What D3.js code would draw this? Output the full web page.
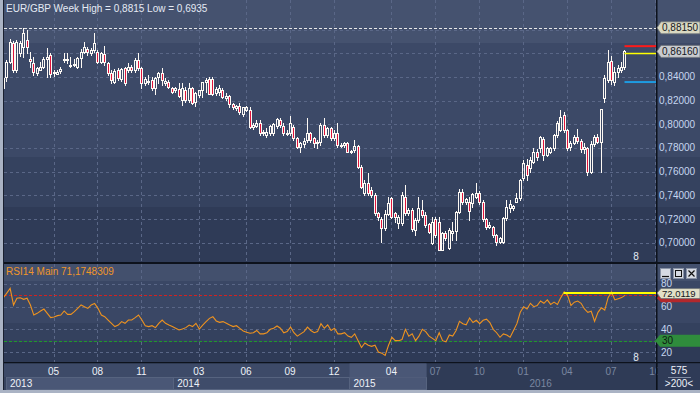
<!DOCTYPE html>
<html><head><meta charset="utf-8">
<script src="https://cdn.jsdelivr.net/npm/d3@7"></script>
<style>
html,body{margin:0;padding:0;background:#2f3b57;overflow:hidden;}
svg{display:block;font-family:"Liberation Sans",Arial,sans-serif;}
</style></head><body>
<svg id="c" width="700" height="393"></svg>
<script>
// ---------- DATA ----------
const title = "EUR/GBP Week High = 0,8815 Low = 0,6935";
const rsiTitle = "RSI14  Main 71,1748309";
const firstWeek = "2013-01-13";
const lastWeekEnd = "2016-08-01";
const opens = [
.8304,.8402,.8529,.8684,.8459,.8599,.8656,.8712,.8549,.8515,.8431,.8459,.8487,.8549,.8585,.8445,.8425,.8453,.8549,.8549,.8501,.8509,.8487,.8557,.8614,.8636,.8599,.8628,.8614,.8529,
.8591,.8515,.8431,.8360,.8459,.8380,.8473,.8459,.8487,.8459,.8543,.8473,.8346,.8366,.8374,.8304,.8397,.8431,.8346,.8360,.8304,.8290,.8295,.8205,.8290,.8205,.8304,.8191,.8247,.8290,
.8360,.8380,.8380,.8262,.8270,
.8290,.8219,.8239,.8172,.8135,.8157,.8087,.8121,.8121,.7980,.7985,.8008,.7938,.7910,.7924,.7930,.7985,.8036,.7985,.7924,.7924,.7980,.7882,.7811,.7833,.7867,.7930,.7882,.7839,.7853,
.7994,.7910,.7966,.7882,.7924,.7825,.7825,.7839,.7769,.7783,.7820,.7642,.7417,.7502,.7445,.7403,.7248,.7197,.7121,.7242,.7375,.7248,.7164,.7164,.7389,.7248,.7276,.7107,.7192,.7276,
.7234,
.7158,.7000,.7197,.7178,.6939,.7079,.6953,.7079,.7102,.7262,.7425,.7347,.7347,.7338,.7389,.7417,.7347,.7197,.7136,.7130,.7065,.7009,.7009,.7206,.7290,.7290,.7347,.7375,.7543,.7656,
.7628,.7684,.7769,.7797,.7873,.7741,.7769,.7797,.7910,.7952,.8079,.7952,.7811,.7846,.7896,.7862,.7790,.7800,.7600,.7834,.7896,.7853,.8219,.8374,.8538,.8360,.8445,.8459,.8487];
const highs = [
.8408,.8543,.8718,.8706,.8712,.8706,.8815,.8796,.8608,.8566,.8487,.8529,.8571,.8642,.8599,.8459,.8459,.8481,.8599,.8599,.8566,.8549,.8566,.8633,.8698,.8650,.8642,.8774,.8628,.8614,
.8661,.8529,.8459,.8464,.8473,.8473,.8487,.8515,.8501,.8557,.8599,.8487,.8402,.8416,.8402,.8402,.8445,.8473,.8388,.8374,.8318,.8318,.8352,.8346,.8318,.8352,.8318,.8276,.8290,.8304,
.8388,.8402,.8402,.8318,.8332,
.8304,.8262,.8247,.8177,.8163,.8177,.8149,.8157,.8143,.8008,.8036,.8036,.7950,.7966,.7994,.8013,.8050,.8050,.8008,.7950,.8070,.7994,.7896,.7853,.7882,.8050,.7938,.7896,.7867,.8008,
.8050,.7980,.7980,.7950,.8008,.7839,.7853,.7853,.7783,.7867,.7825,.7656,.7530,.7586,.7473,.7417,.7262,.7220,.7276,.7389,.7389,.7262,.7234,.7431,.7487,.7290,.7290,.7206,.7389,.7361,
.7262,
.7164,.7220,.7220,.7220,.7090,.7100,.7120,.7178,.7265,.7450,.7450,.7380,.7389,.7417,.7501,.7440,.7361,.7210,.7178,.7140,.7075,.7050,.7220,.7361,.7361,.7320,.7417,.7540,.7700,.7710,
.7720,.7800,.7790,.7900,.7890,.7810,.7810,.7920,.8030,.8120,.8100,.7960,.7860,.7910,.7960,.7880,.7840,.7810,.7860,.7910,.7920,.8130,.8420,.8628,.8580,.8480,.8500,.8530,.8628];
const lows = [
.8284,.8369,.8515,.8445,.8445,.8577,.8571,.8599,.8487,.8417,.8417,.8464,.8473,.8397,.8402,.8408,.8436,.8431,.8529,.8515,.8487,.8493,.8473,.8481,.8599,.8585,.8585,.8614,.8515,.8515,
.8501,.8417,.8352,.8346,.8374,.8369,.8332,.8445,.8445,.8445,.8459,.8304,.8332,.8340,.8290,.8256,.8346,.8332,.8332,.8304,.8262,.8276,.8228,.8163,.8191,.8191,.8172,.8157,.8233,.8233,
.8276,.8346,.8247,.8247,.8247,
.8219,.8205,.8149,.8129,.8121,.8087,.8072,.8115,.7966,.7960,.7980,.7910,.7910,.7896,.7910,.7910,.7966,.7980,.7910,.7910,.7910,.7867,.7797,.7769,.7811,.7853,.7853,.7811,.7797,.7825,
.7896,.7896,.7867,.7867,.7811,.7811,.7811,.7765,.7755,.7769,.7628,.7459,.7403,.7403,.7389,.7234,.7192,.7008,.7107,.7234,.7206,.7177,.7121,.7150,.7234,.7234,.7099,.7065,.7177,.7220,
.7136,
.7079,.6990,.7050,.6935,.6935,.7020,.6945,.7023,.7023,.7250,.7330,.7330,.7192,.7304,.7380,.7330,.7180,.7115,.7121,.7050,.6980,.6995,.6995,.7195,.7260,.7280,.7340,.7361,.7530,.7530,
.7600,.7670,.7700,.7769,.7700,.7730,.7755,.7780,.7896,.7940,.7935,.7780,.7780,.7830,.7840,.7770,.7760,.7572,.7590,.7820,.7840,.7600,.8190,.8360,.8340,.8330,.8400,.8440,.8470];
const closes = [
.8388,.8529,.8698,.8459,.8698,.8690,.8768,.8650,.8538,.8445,.8473,.8487,.8549,.8571,.8425,.8431,.8445,.8464,.8549,.8549,.8501,.8509,.8557,.8614,.8650,.8608,.8628,.8684,.8529,.8599,
.8529,.8431,.8374,.8453,.8388,.8464,.8346,.8487,.8459,.8543,.8473,.8346,.8380,.8357,.8304,.8388,.8431,.8374,.8366,.8318,.8276,.8304,.8239,.8304,.8205,.8304,.8177,.8267,.8290,.8360,
.8374,.8256,.8256,.8295,.8304,
.8233,.8239,.8172,.8143,.8157,.8100,.8143,.8143,.7980,.7994,.8013,.7924,.7924,.7938,.7985,.8002,.8041,.7994,.7924,.7930,.8008,.7882,.7811,.7839,.7861,.7930,.7867,.7839,.7853,.7994,
.7910,.7966,.7882,.7924,.7825,.7828,.7839,.7769,.7772,.7820,.7642,.7473,.7502,.7417,.7403,.7248,.7214,.7121,.7242,.7332,.7220,.7220,.7220,.7403,.7248,.7276,.7113,.7192,.7290,.7234,
.7150,
.7093,.7178,.7065,.6939,.7079,.7037,.7107,.7102,.7262,.7425,.7347,.7367,.7271,.7411,.7423,.7347,.7197,.7136,.7150,.7065,.7009,.7037,.7206,.7304,.7330,.7310,.7375,.7530,.7670,.7572,
.7699,.7769,.7727,.7896,.7741,.7797,.7797,.7910,.8008,.8064,.7952,.7797,.7839,.7896,.7862,.7790,.7810,.7600,.7834,.7896,.7853,.8126,.8388,.8529,.8374,.8445,.8473,.8487,.8616];
const rsi = [
67.9,72.0,76.2,61.5,67.4,67.9,66.5,67.4,61.5,52.6,54.1,56.2,57.9,54.1,50.3,50.9,52.1,52.6,56.2,53.2,53.2,55.6,58.5,61.5,60.0,58.5,61.5,62.9,58.5,52.6,
51.2,48.2,45.3,42.4,43.8,46.8,45.3,48.2,48.2,50.3,52.6,48.2,43.2,42.4,43.2,41.5,45.3,48.2,45.3,43.8,42.4,40.9,39.4,40.3,41.5,43.8,42.4,45.3,40.3,43.8,
46.8,49.7,51.2,47.4,46.2,46.8,45.3,43.8,42.4,43.2,40.9,38.5,37.4,36.5,
37,39,36,36,37,40,41,43,41,37,38,42,37,34,36,38,42,39,37,38,45,41,44,39,41,36,36,37,34,33,36,30,24,28,26,25,26,20,19,17,
26,33,30,30,31,40,34,36,30,34,40,38,34,32,30,37,30,29,35,34,39,47,45,44,50,46,48,45,48,49,46,40,37,33,36,35,33,39,45,55,
60,58,63,60,61,65,63,66,62,64,62,68,73,70,61,64,65,63,58,55,56,47,55,59,57,68,73,66,67,68,70,71.17];
const priceTicks = [0.70,0.72,0.74,0.76,0.78,0.80,0.82,0.84,0.86,0.88];
const priceLabels = [0.70,0.72,0.74,0.76,0.78,0.80,0.82,0.84];
const highLevel = 0.8815;
const lastLevel = 0.8616;
const markerLevels = [{v:0.8660,c:"#ff1a1a",w:2},{v:0.8598,c:"#ffff00",w:1.5},{v:0.8357,c:"#1e9be0",w:2}];
const rsiTicks = [20,40,60,80];
const rsiLevels = [{v:70,c:"#d42020"},{v:30,c:"#1f9a2a"}];
const rsiTrend = {from:"2016-03-20", v:72.0119};
const monthTicks = ["2013-05","2013-08","2013-11","2014-03","2014-06","2014-09","2014-12","2015-04","2015-07","2015-10","2016-01","2016-04","2016-07","2016-10"];
const yearTicks = ["2013","2014","2015","2016"];
const activeEnd = "2015-06-10";
const barCount = "575";
const barLimit = ">200<";

// ---------- SETUP ----------
const svg = d3.select("#c");
const W = 700, H = 393;
const PL = 4, PR = 656;
const parse = d3.utcParse("%Y-%m-%d");
const parseM = d3.utcParse("%Y-%m");
const parseY = d3.utcParse("%Y");
const x = d3.scaleUtc().domain([parse("2013-01-01"), parse("2016-10-01")]).range([-2.9, 657.8]);
const y = d3.scaleLinear().domain([0.6837, 0.9050]).range([262, 0]);
const yr = d3.scaleLinear().domain([11.18, 97.65]).range([362, 264]);
const weeks = d3.utcWeek.range(parse(firstWeek), parse(lastWeekEnd));
const bars = weeks.map((d,i)=>({d, o:opens[i], h:highs[i], l:lows[i], c:closes[i], r:rsi[i]})).filter(b=>b.o!==undefined);
const loc = d3.formatLocale({decimal:",", thousands:".", grouping:[3], currency:["",""]});
const f5 = loc.format(".5f"), f4 = loc.format(".4f");
const px = v => Math.round(v) + 0.5;

// ---------- BACKGROUND BANDS ----------
const bands = [[0,43,"#45526f"],[43,157,"#3c4967"],[157,207,"#35425f"],[207,262,"#2f3b57"],
  [264,281,"#43506d"],[281,323,"#3a4765"],[323,342,"#34415e"],[342,362,"#2e3a56"],
  [363,390,"#37435f"]];
svg.append("g").selectAll("rect").data(bands).join("rect")
  .attr("x",0).attr("y",d=>d[0]).attr("width",W).attr("height",d=>d[1]-d[0]).attr("fill",d=>d[2]);

// ---------- GRID ----------
const grid = svg.append("g").attr("stroke","#5a6787").attr("stroke-dasharray","3,3").attr("stroke-width",1).attr("shape-rendering","crispEdges");
grid.selectAll(".hy").data(priceTicks).join("line")
  .attr("x1",PL).attr("x2",PR).attr("y1",d=>px(y(d))).attr("y2",d=>px(y(d)));
grid.selectAll(".hr").data(rsiTicks).join("line").attr("class","hr")
  .attr("x1",PL).attr("x2",PR).attr("y1",d=>px(yr(d))).attr("y2",d=>px(yr(d)));
const mt = monthTicks.map(m=>d3.utcWeek.floor(parseM(m)));
grid.selectAll(".vm").data(mt.filter(d=>x(d)<PR)).join("line").attr("class","vm")
  .attr("x1",d=>px(x(d))).attr("x2",d=>px(x(d))).attr("y1",0).attr("y2",262);
grid.selectAll(".vr").data(mt.filter(d=>x(d)<PR)).join("line").attr("class","vr")
  .attr("x1",d=>px(x(d))).attr("x2",d=>px(x(d))).attr("y1",264).attr("y2",362);

// high dotted line
svg.append("line").attr("x1",PL).attr("x2",PR).attr("y1",px(y(highLevel))).attr("y2",px(y(highLevel)))
  .attr("stroke","#e8e8e8").attr("stroke-dasharray","3,2").attr("shape-rendering","crispEdges");

// ---------- CANDLES ----------
const cg = svg.append("g").attr("shape-rendering","crispEdges");
bars.forEach(b=>{
  const cx = Math.round(x(b.d));
  const top = Math.round(y(Math.max(b.o,b.c))), bot = Math.max(Math.round(y(Math.min(b.o,b.c))), top+1);
  const hi = Math.round(y(b.h)), lo = Math.round(y(b.l));
  const wc = "#fdf9f4";
  if (hi < top) cg.append("line").attr("x1",cx+0.5).attr("x2",cx+0.5).attr("y1",hi).attr("y2",top).attr("stroke",wc);
  if (lo > bot) cg.append("line").attr("x1",cx+0.5).attr("x2",cx+0.5).attr("y1",bot).attr("y2",lo+1).attr("stroke",wc);
  cg.append("rect").attr("x",cx-0.5).attr("y",top+0.5).attr("width",2).attr("height",bot-top)
    .attr("fill", b.c < b.o ? "#e0143c" : "none").attr("stroke",wc);
});
// marker levels at the right end
const lastX = x(bars[bars.length-1].d);
svg.append("g").selectAll("line").data(markerLevels).join("line")
  .attr("x1",lastX).attr("x2",PR).attr("y1",d=>y(d.v)).attr("y2",d=>y(d.v))
  .attr("stroke",d=>d.c).attr("stroke-width",d=>d.w);

// ---------- RSI ----------
rsiLevels.forEach(l=>{
  svg.append("line").attr("x1",PL).attr("x2",PR).attr("y1",px(yr(l.v))).attr("y2",px(yr(l.v)))
    .attr("stroke",l.c).attr("stroke-dasharray","3,2").attr("shape-rendering","crispEdges");
});
svg.append("path").datum(bars).attr("fill","none").attr("stroke","#ef931f").attr("stroke-width",1.1)
  .attr("d", d3.line().x(b=>x(b.d)+0.5).y(b=>yr(b.r)));
svg.append("line").attr("x1",x(parse(rsiTrend.from))).attr("x2",PR).attr("y1",yr(rsiTrend.v)).attr("y2",yr(rsiTrend.v))
  .attr("stroke","#ffff00").attr("stroke-width",2);

// ---------- SEPARATORS ----------
const sep = svg.append("g").attr("fill","#0d121c");
sep.append("rect").attr("x",0).attr("y",262).attr("width",W).attr("height",2);
sep.append("rect").attr("x",0).attr("y",362).attr("width",W).attr("height",1.5);
sep.append("rect").attr("x",PR).attr("y",0).attr("width",1.5).attr("height",390);
// frame
svg.append("rect").attr("x",0).attr("y",0).attr("width",3).attr("height",H).attr("fill","#aab3c4");
svg.append("rect").attr("x",3).attr("y",0).attr("width",1).attr("height",390).attr("fill","#1a2030");
svg.append("rect").attr("x",0).attr("y",390).attr("width",W).attr("height",3).attr("fill","#aab3c4");

// ---------- TITLES ----------
svg.append("text").attr("x",6).attr("y",12).attr("fill","#e4eaf4").attr("font-size",10).text(title);
svg.append("text").attr("x",6).attr("y",275).attr("fill","#f0962a").attr("font-size",10).text(rsiTitle);
svg.append("text").attr("x",636).attr("y",260).attr("fill","#e4eaf4").attr("font-size",10).attr("text-anchor","middle").text("8");
svg.append("text").attr("x",636).attr("y",361).attr("fill","#e4eaf4").attr("font-size",10).attr("text-anchor","middle").text("8");

// ---------- PRICE AXIS ----------
const ax = svg.append("g").attr("font-size",10).attr("fill","#c6d6f0");
ax.selectAll("text").data(priceLabels).join("text")
  .attr("x",659).attr("y",d=>y(d)+3.5).text(d=>f5(d));
function callout(g, cy, txt, fill, tipX, hTop, hBot, fs){
  g.append("path").attr("d",`M${tipX},${cy} L${tipX+4},${cy-hTop} L700,${cy-hTop} L700,${cy+hBot} L${tipX+4},${cy+hBot} Z`)
    .attr("fill",fill).attr("stroke","#6f737a").attr("stroke-width",0.8);
  g.append("text").attr("x",tipX+5).attr("y",cy+3.5).attr("font-size",fs).attr("fill","#15171c").text(txt);
}
callout(svg, y(highLevel), f5(highLevel), "#d9d9c2", 657, 6, 6, 10);
callout(svg, y(lastLevel), f5(lastLevel), "#c9ccd0", 657, 6, 6, 10);

// ---------- RSI AXIS ----------
const rax = svg.append("g").attr("font-size",10).attr("fill","#c6d6f0");
rax.selectAll("text").data(rsiTicks).join("text").attr("x",661).attr("y",d=>yr(d)+(d===80?2.5:3.5)).text(d=>d);
// red level box (70) under the trend label
svg.append("path").attr("d",`M657,${yr(70)+3} L661,${yr(70)-3} L700,${yr(70)-3} L700,${yr(70)+7} L661,${yr(70)+7} Z`).attr("fill","#b3282c");
callout(svg, yr(rsiTrend.v), f4(rsiTrend.v), "#e2e0c8", 657, 4.5, 5.5, 9.5);
// green 30 box
svg.append("path").attr("d",`M655,${yr(30)} L660,${yr(30)-6} L700,${yr(30)-6} L700,${yr(30)+6} L660,${yr(30)+6} Z`).attr("fill","#2f8c3c");
svg.append("text").attr("x",662).attr("y",yr(30)+3.5).attr("font-size",10).attr("fill","#0d1a10").text("30");
// window buttons
const btn = svg.append("g");
[660,673,686].forEach((bx,i)=>{
  btn.append("rect").attr("x",bx+0.5).attr("y",268.5).attr("width",10).attr("height",10).attr("fill","#d6dae2").attr("stroke","#8a93a6");
  if(i===0) btn.append("line").attr("x1",bx+2).attr("x2",bx+9).attr("y1",276.5).attr("y2",276.5).attr("stroke","#111").attr("stroke-width",1.2);
  if(i===1) btn.append("rect").attr("x",bx+2.5).attr("y",270.5).attr("width",6).attr("height",6).attr("fill","none").attr("stroke","#111");
  if(i===2){ btn.append("path").attr("d",`M${bx+2.5},${270.5} L${bx+8.5},${276.5} M${bx+8.5},${270.5} L${bx+2.5},${276.5}`).attr("stroke","#111").attr("stroke-width",1.2); }
});

// ---------- TIME AXIS ----------
const aEnd = x(parse(activeEnd));
const ta = svg.append("g");
ta.append("rect").attr("x",PL).attr("y",363.5).attr("width",aEnd-PL).attr("height",13.5).attr("fill","#3d4a68");
ta.append("rect").attr("x",aEnd).attr("y",363.5).attr("width",PR-aEnd).attr("height",26.5).attr("fill","#2f3b56");
const yearStarts = yearTicks.map(t=>parseY(t));
yearStarts.forEach((d,i)=>{
  const x0 = Math.max(PL+2, x(d));
  const x1 = i<yearStarts.length-1 ? Math.min(aEnd, x(yearStarts[i+1])) : aEnd;
  if (x1 > x0) ta.append("rect").attr("x",px(x0)).attr("y",377.5).attr("width",Math.round(x1-x0)).attr("height",12)
    .attr("fill", i%2===0 ? "#4a5776" : "#3f4c6a").attr("stroke","#56637f").attr("stroke-width",1);
});
ta.append("rect").attr("x",px(x(parseY("2015")))).attr("y",363.5).attr("width",Math.round(aEnd-x(parseY("2015")))).attr("height",14).attr("fill","#4a5776");
ta.selectAll(".ml").data(mt).join("text").attr("class","ml")
  .attr("x",d=>x(d)).attr("y",374.5).attr("text-anchor","middle").attr("font-size",10)
  .attr("fill",d=>x(d)<aEnd ? "#eef2f8" : "#7a87a0").text(d=>d3.utcFormat("%m")(d3.utcMonth.ceil(d)));
ta.selectAll(".yl").data(yearStarts).join("text").attr("class","yl")
  .attr("x",d=>Math.max(10, x(d)+4)).attr("y",387).attr("font-size",10)
  .attr("fill",d=>x(d)<aEnd ? "#eef2f8" : "#7a87a0").text(d=>d3.utcFormat("%Y")(d));
// cover axis labels beyond the price axis
svg.append("rect").attr("x",PR+1.5).attr("y",363.5).attr("width",W-PR-1.5).attr("height",26.5).attr("fill","#2f3b57");
svg.append("rect").attr("x",PR).attr("y",363).attr("width",1.5).attr("height",27).attr("fill","#0d121c");
svg.append("text").attr("x",679).attr("y",374).attr("text-anchor","middle").attr("font-size",10).attr("fill","#eef2f8").text(barCount);
svg.append("line").attr("x1",668).attr("x2",691).attr("y1",377.5).attr("y2",377.5).attr("stroke","#7f8aa0");
svg.append("text").attr("x",679).attr("y",387).attr("text-anchor","middle").attr("font-size",10).attr("fill","#eef2f8").text(barLimit);
</script></body></html>
